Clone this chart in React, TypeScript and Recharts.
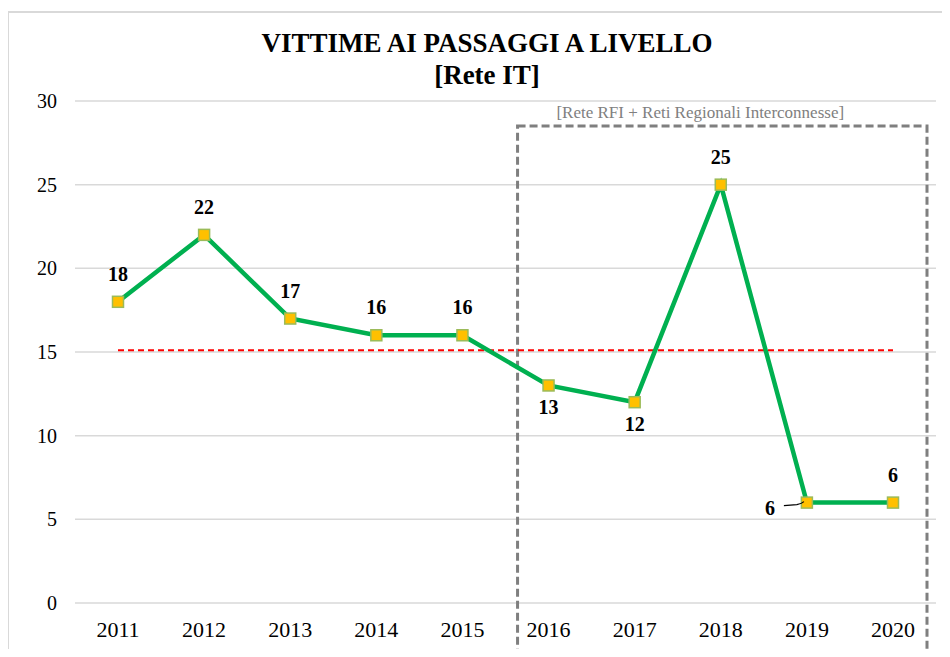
import React from "react";
import {
  CartesianGrid,
  LabelList,
  Line,
  LineChart,
  ReferenceArea,
  XAxis,
  YAxis,
} from "recharts";

const years = ["2011", "2012", "2013", "2014", "2015", "2016", "2017", "2018", "2019", "2020"];
const vittime = [18, 22, 17, 16, 16, 13, 12, 25, 6, 6];
const media = [15.1, 15.1, 15.1, 15.1, 15.1, 15.1, 15.1, 15.1, 15.1, 15.1];
const yTicks = [0, 5, 10, 15, 20, 25, 30];

const title = "VITTIME AI PASSAGGI A LIVELLO";
const subtitle = "[Rete IT]";
const boxLabel = "[Rete RFI + Reti Regionali Interconnesse]";

const data = years.map((y, i) => ({ anno: y, vittime: vittime[i], media: media[i] }));

const FONT = "Liberation Serif, Tinos, Times New Roman, DejaVu Serif, serif";
const GREEN = "#00B050";

// where each data label sits relative to its point
const labelSide = ["top", "top", "top", "top", "top", "bottom", "bottom", "top", "left", "top"];

function SquareDot(props: any) {
  const { cx, cy } = props;
  if (cx == null || cy == null) return null;
  return (
    <rect
      x={cx - 5.5}
      y={cy - 5.5}
      width={11}
      height={11}
      fill="#FFC000"
      stroke="#9BBB59"
      strokeWidth={1.5}
    />
  );
}

function ValueLabel(props: any) {
  const { x, y, value, index } = props;
  const side = labelSide[index] ?? "top";
  const common = {
    fontFamily: FONT,
    fontSize: 20,
    fontWeight: 700,
    fill: "#000",
  };
  if (side === "left") {
    return (
      <g>
        <path
          d={`M ${x - 23} ${y + 3} L ${x - 10} ${y + 2} Q ${x - 5} ${y + 1} ${x - 3} ${y - 1}`}
          stroke="#000"
          strokeWidth={1.3}
          fill="none"
        />
        <text x={x - 37} y={y + 12} textAnchor="middle" {...common}>
          {value}
        </text>
      </g>
    );
  }
  const dy = side === "bottom" ? 29 : -21;
  return (
    <text x={x} y={y + dy} textAnchor="middle" {...common}>
      {value}
    </text>
  );
}

function DashedBox(props: any) {
  const { x, y, width } = props;
  const left = x - 31;
  const right = x + width + 34;
  const top = y;
  const bottom = 654;
  return (
    <g>
      <rect
        x={left}
        y={top}
        width={right - left}
        height={bottom - top}
        fill="none"
        stroke="#7F7F7F"
        strokeWidth={3}
        strokeDasharray="8 4"
      />
      <text
        x={(left + right) / 2 - 22}
        y={top - 8}
        textAnchor="middle"
        fontFamily={FONT}
        fontSize={17}
        fill="#808080"
      >
        {boxLabel}
      </text>
    </g>
  );
}

export default function App() {
  return (
    <div
      style={{
        margin: -8,
        width: 950,
        height: 657,
        position: "relative",
        overflow: "hidden",
        background: "#fff",
        fontFamily: FONT,
      }}
    >
      <div
        style={{
          position: "absolute",
          left: 7,
          top: 11,
          width: 1000,
          height: 700,
          borderLeft: "2px solid #D9D9D9",
          borderTop: "2px solid #D9D9D9",
        }}
      />
      <div
        style={{
          position: "absolute",
          left: 0,
          top: 27,
          width: 974,
          textAlign: "center",
          fontSize: 27,
          fontWeight: 700,
          lineHeight: "32px",
          color: "#000",
        }}
      >
        <div>{title}</div>
        <div>{subtitle}</div>
      </div>
      <div style={{ position: "absolute", left: 0, top: 0 }}>
        <LineChart
          width={950}
          height={657}
          data={data}
          margin={{ top: 101, right: 14, left: 25, bottom: 24 }}
        >
          <CartesianGrid vertical={false} stroke="#D9D9D9" strokeWidth={1.5} />
          <XAxis
            dataKey="anno"
            axisLine={false}
            tickLine={false}
            height={30}
            padding={{ left: 43, right: 43 }}
            tickMargin={12}
            tick={{ fontSize: 22, fill: "#000", fontFamily: FONT }}
            interval={0}
          />
          <YAxis
            domain={[0, 30]}
            ticks={yTicks}
            axisLine={false}
            tickLine={false}
            width={50}
            tickMargin={12}
            tick={{ fontSize: 20, fill: "#000", fontFamily: FONT }}
          />
          <ReferenceArea
            x1="2016"
            x2="2020"
            y1={0}
            y2={28.5}
            shape={<DashedBox />}
            ifOverflow="visible"
          />
          <Line
            dataKey="media"
            stroke="#FF0000"
            strokeWidth={2}
            strokeDasharray="6 4"
            dot={false}
            activeDot={false}
            isAnimationActive={false}
          />
          <Line
            dataKey="vittime"
            stroke={GREEN}
            strokeWidth={4.5}
            dot={<SquareDot />}
            activeDot={false}
            isAnimationActive={false}
          >
            <LabelList dataKey="vittime" content={<ValueLabel />} />
          </Line>
        </LineChart>
      </div>
    </div>
  );
}
